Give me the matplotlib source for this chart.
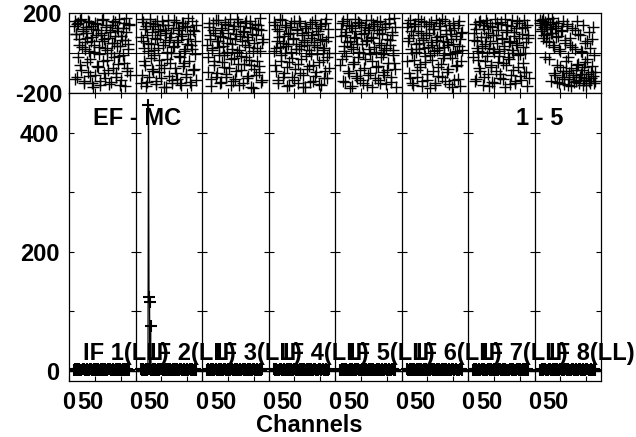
import numpy as np
import matplotlib
matplotlib.use("Agg")
import matplotlib.pyplot as plt
import matplotlib.transforms as mtrans

plt.rcParams['font.family'] = ['Liberation Sans', 'DejaVu Sans']
plt.rcParams['font.weight'] = 'bold'

# ---------------- data ----------------
N_IF = 8
N_CHAN = 128            # channels per IF
CH_FIRST = 10           # first plotted channel
CH_STEP = 2             # plotted channel spacing
if_labels = ["IF 1(LL)", "IF 2(LL)", "IF 3(LL)", "IF 4(LL)",
             "IF 5(LL)", "IF 6(LL)", "IF 7(LL)", "IF 8(LL)"]
x_tick_channels = [0, 50, 100]
x_tick_labels = ["0", "50", ""]
amp_ticks = [0, 100, 200, 300, 400]
amp_tick_labels = ["0", "", "200", "", "400"]
phase_ticks = [-200, 200]
phase_tick_labels = ["-200", "200"]
baseline_label = "EF - MC"
source_label = "1 - 5"
xlabel = "Channels"

# phases (deg) on even channels 10, 12, ... of each IF
phase_if1 = [135, 160, 95, -120, 150, 40, -60, 170, 110, -140, 20, 130, 75, -95, 155, -30, 60, -150, 120, 5,
             -110, 90, 145, -70, 30, -160, 100, 165, -40, 70, -125, 140, 15, -85, 115, -145, 50, 160, -20, 85,
             -100, 125, -55, 170, 35, -135, 65, -10, 150, -165, 105, -75, 45, 140]
phase_if2 = [-150, 170, 60, -40, 120, -165, 90, 10, -120, 150, 45, -80, 135, -10, 75, -140, 160, 25, -95, 110,
             -60, 140, -170, 55, 100, -30, 165, -115, 80, 0, -150, 125, 35, -75, 155, -130, 65, 115, -20, -160,
             95, 150, -50, 20, -105, 130, 70, -145, 40, 160, -85, 110, -5, -135]
phase_if3 = [40, -20, 150, 90, -130, 15, 115, -60, 165, -100, 60, 30, -150, 125, -45, 80, -10, 145, -120, 50,
             100, -75, 170, -30, 20, -140, 135, 70, -90, 5, 155, -160, 85, -15, 110, -55, 40, 160, -125, 65,
             -35, 130, -170, 95, 10, -80, 145, -110, 25, 120, -65, 175, -145, 55]
phase_if4 = [10, 140, -90, 60, -150, 110, 30, -40, 165, -120, 85, 0, 130, -70, 45, -160, 100, 150, -25, 70,
             -135, 20, 120, -55, 160, -100, 35, 90, -170, 55, 135, -15, -80, 105, 15, -145, 75, 155, -60, 40,
             -115, 125, -5, 95, -155, 65, 145, -35, 25, -90, 170, -125, 80, 0]
phase_if5 = [-60, 120, 150, -140, 35, 90, -15, 170, -100, 60, 135, -165, 20, -45, 110, 75, -125, 155, 5, -85,
             140, 45, -150, 100, -30, 165, 65, -110, 125, -5, 80, -170, 145, 30, -70, 115, -135, 50, 160, -20,
             95, -95, 15, 130, -155, 70, -50, 150, 40, -120, 105, -10, 175, -80]
phase_if6 = [130, 60, -100, 165, 20, -150, 90, -35, 145, 5, -120, 110, 50, -70, 160, -165, 75, 25, -45, 135,
             -135, 100, -10, 155, 40, -90, 120, -160, 65, 15, -115, 150, 85, -55, 170, -25, 30, -140, 115, 55,
             -80, 140, -5, 95, -170, 45, 125, -65, 10, -130, 160, 70, -40, 105]
phase_if7 = [-20, 100, 145, -130, 60, 10, -75, 160, 35, -160, 120, -40, 80, 150, -105, 25, 135, -60, -145, 90,
             5, 170, -90, 50, 115, -15, -125, 155, 70, -50, 20, -170, 105, 140, -30, 60, -110, 165, 0, 85,
             -150, 125, 40, -70, 150, -5, -135, 95, 30, -95, 130, 55, -165, 75]
phase_if8 = [150, 110, 160, 75, 130, -20, 140, 95, 170, 55, 120, -140, 100, 155, 30, -110, 135, -60, 85, -150,
             10, 115, -90, -130, 65, -40, 145, -160, -100, 40, -75, 125, -120, -145, 20, -85, 160, -55, -135, 90,
             -105, 5, -160, -70, 50, -125, -30, 105, -150, -95, 70, -115, -10, -140]

# phases (deg) on odd channels 11, 13, ... of each IF
phase_if1_odd = [-130, 95, 145, -20, 70, 165, -85, 30, 120, -150, 55, 100, -45, 160, 10, -115, 135, 80, -170, 40,
                 150, -65, 115, -5, -140, 90, 60, 170, -100, 25, 130, -35, 75, -155, 105, 0, 140, -75, 50, 155,
                 -120, 35, 110, -15, -160, 85, 125, -50, 65, 175, -90, 20, 145, -110]
phase_if2_odd = [80, -110, 155, 25, -60, 135, -145, 50, 170, -25, 105, -90, 15, 145, -155, 70, 120, -35, 90, -125,
                 160, 40, -75, 115, -170, 5, 140, 65, -50, 100, -135, 30, 165, -100, 55, 125, -15, -150, 85, 150,
                 -65, 10, 135, -120, 45, 175, -40, 95, -160, 20, 115, -80, 60, 140]
phase_if3_odd = [-95, 130, 70, -165, 25, 150, -40, 100, -120, 60, 165, -10, 85, -145, 115, 35, -70, 155, -105, 5,
                 140, 75, -160, 45, 120, -25, -130, 95, 170, -55, 15, 135, -85, 60, -150, 105, 150, -20, 80, -115,
                 30, 160, -60, 125, -175, 50, 90, -40, 140, -95, 10, 115, -135, 70]
phase_if4_odd = [155, -60, 25, 120, -135, 80, 170, -10, 50, -100, 140, 35, -165, 95, -45, 130, 5, -120, 75, 160,
                 -80, 45, 115, -150, 20, 150, -30, 100, -110, 65, -170, 125, 40, -65, 145, -5, 90, -140, 55, 165,
                 -95, 30, 110, -45, 135, -160, 70, 15, -125, 150, 60, -20, 120, -75]
phase_if5_odd = [85, -30, 160, 10, -145, 105, 55, -90, 140, -175, 30, 125, -55, 80, 170, -115, 45, -20, 150, -135,
                 95, 0, -75, 130, 60, -160, 115, 20, -100, 165, -40, 75, 135, -125, 5, 155, -65, 100, -150, 40,
                 120, -5, -110, 145, 25, -85, 170, 65, -145, 90, 15, -50, 130, -170]
phase_if6_odd = [-40, 150, 75, -125, 110, 0, -160, 135, 45, -85, 170, 20, -55, 100, -140, 65, 155, -15, 90, -105,
                 30, 145, -175, 55, -35, 120, 10, -150, 165, 80, -70, 25, 135, -120, 60, -10, 160, 95, -95, 40,
                 -155, 115, 70, -25, 150, -135, 5, 85, -60, 140, 35, -165, 100, 15]
phase_if7_odd = [65, -140, 120, 25, -35, 155, -90, 80, 5, 140, -120, 45, 165, -15, 100, -165, 60, -70, 130, 20,
                 -150, 90, 150, -45, 10, -105, 145, 75, -130, 35, 170, -60, 115, -20, 55, -155, 135, 15, -85, 105,
                 -140, 50, 160, -10, 75, -115, 125, -50, 165, 0, -95, 140, 90, -125]
phase_if8_odd = [165, 140, 120, 170, 90, 155, 60, 130, -30, 145, 100, 175, 40, -100, 125, 80, -145, 150, 20, -70,
                 110, -120, 160, -155, 50, -90, 135, -20, -130, 75, -165, 30, -110, 115, -140, -60, 95, -150, -120, 10,
                 -85, 140, -135, -45, -160, 60, -105, -140, 25, -125, -65, 130, -150, -95]

amp_if1 = [2,3,1,4,2,3,2,1,3,4,2,2,3,1,2,4,3,2,1,3,2,4,2,3,1,2,3,2,4,1,3,2,2,3,4,1,2,3,2,1,3,2,4,2,3,1,2,3,2,4,1,3,2,2]
amp_if2 = [3,2,4,1,2,3,2,4,125,3,1,2,3,2,4,2,1,3,2,3,4,1,2,2,3,1,4,2,3,2,1,3,2,4,2,3,1,2,3,4,2,1,3,2,2,4,1,3,2,3,2,1,4,2]
amp_if3 = [1,3,2,2,4,1,3,2,3,1,2,4,2,3,1,2,3,4,2,1,3,2,2,4,3,1,2,3,1,4,2,2,3,1,3,2,4,2,1,3,2,3,1,2,4,3,2,1,3,2,2,4,1,3]
amp_if4 = [4,2,3,1,2,2,4,3,1,2,3,2,1,4,2,3,2,3,1,2,4,2,3,1,2,3,2,4,1,3,2,1,3,2,4,2,3,2,1,3,4,2,1,2,3,3,1,4,2,2,3,1,2,3]
amp_if5 = [2,2,3,1,4,2,3,2,1,3,2,4,2,1,3,2,3,4,1,2,2,3,1,4,2,3,2,1,3,2,4,2,3,1,2,3,2,4,1,2,3,2,1,3,4,2,2,3,1,2,4,3,2,1]
amp_if6 = [3,1,2,4,2,3,1,3,2,2,4,1,3,2,3,2,1,4,2,3,2,2,1,3,4,2,3,1,2,3,2,4,2,1,3,2,3,1,4,2,2,3,2,1,3,4,2,3,1,2,2,3,4,1]
amp_if7 = [2,4,1,3,2,2,3,1,4,2,3,2,2,1,3,4,2,3,2,1,3,2,4,2,1,3,3,2,1,4,2,3,2,2,1,3,4,2,3,1,2,2,3,4,1,3,2,2,3,1,4,2,3,2]
amp_if8 = [1,2,3,2,4,3,1,2,2,3,4,2,1,3,2,3,2,4,1,2,3,2,2,1,4,3,2,3,1,2,2,4,3,1,2,3,2,1,3,4,2,2,3,1,2,3,4,2,1,3,2,2,3,1]

# extra channels of the IF 2 spike
spike_if = 1
spike_channels = [25, 27, 29]
spike_amps = [447, 116, 75]

phases = [phase_if1, phase_if2, phase_if3, phase_if4, phase_if5, phase_if6, phase_if7, phase_if8]
phases_odd = [phase_if1_odd, phase_if2_odd, phase_if3_odd, phase_if4_odd,
              phase_if5_odd, phase_if6_odd, phase_if7_odd, phase_if8_odd]
amps = [amp_if1, amp_if2, amp_if3, amp_if4, amp_if5, amp_if6, amp_if7, amp_if8]

# ---------------- figure ----------------
W, H = 636, 437
fig = plt.figure(figsize=(W / 100, H / 100), dpi=100)
L, R = 69, 601
ax_ph = fig.add_axes([L / W, 1 - 93 / H, (R - L) / W, 80 / H])
ax_am = fig.add_axes([L / W, 1 - 381 / H, (R - L) / W, 288 / H])

FS = 17
xmax = N_IF * N_CHAN
ph_mk = dict(linestyle='none', marker='+', ms=8.5, mew=1.0, color='black')

for i in range(N_IF):
    off = i * N_CHAN
    ch = CH_FIRST + CH_STEP * np.arange(len(phases[i]))
    ax_ph.plot(off + ch, phases[i], **ph_mk)
    ch_odd = CH_FIRST + 1 + CH_STEP * np.arange(len(phases_odd[i]))
    ax_ph.plot(off + ch_odd, phases_odd[i], **ph_mk)

    cha = list(CH_FIRST + CH_STEP * np.arange(len(amps[i])))
    va = list(amps[i])
    if i == spike_if:
        cha += spike_channels
        va += spike_amps
    order = np.argsort(cha)
    cha = np.array(cha)[order]
    va = np.array(va)[order]
    ax_am.plot(off + cha, va, linestyle='-', lw=0.9, marker='+', ms=9, mew=1.5, color='black')

for ax in (ax_ph, ax_am):
    ax.set_xlim(0, xmax)
    for sp in ax.spines.values():
        sp.set_linewidth(0.9)
    for i in range(1, N_IF):
        ax.axvline(i * N_CHAN, color='black', lw=0.9)

# phase panel
ax_ph.set_ylim(-200, 200)
ax_ph.axhline(0, color='black', lw=0.8)
ax_ph.set_yticks(phase_ticks)
ax_ph.set_yticklabels(phase_tick_labels, fontsize=FS, fontweight='bold')
ax_ph.tick_params(axis='y', length=0, pad=5)
xt = [i * N_CHAN + c for i in range(N_IF) for c in x_tick_channels]
ax_ph.set_xticks(xt)
ax_ph.tick_params(axis='x', direction='in', length=3.6, width=0.8, labelbottom=False)

# amplitude panel
ax_am.set_ylim(-16.8, 467)
ax_am.axhline(0, color='black', lw=1.0)
ax_am.set_yticks(amp_ticks)
ax_am.set_yticklabels(amp_tick_labels, fontsize=FS, fontweight='bold')
ax_am.tick_params(axis='y', direction='in', left=True, right=True, length=3.6, width=0.8, pad=7)
ax_am.set_xticks(xt)
ax_am.set_xticklabels([lab for i in range(N_IF) for lab in x_tick_labels], fontsize=FS, fontweight='bold')
ax_am.tick_params(axis='x', direction='in', top=True, bottom=True, length=3.6, width=0.8, pad=7)
shift = mtrans.ScaledTranslation(-5 / 100, 0, fig.dpi_scale_trans)
for lab in ax_am.get_xticklabels():
    if lab.get_text() == "50":
        lab.set_transform(lab.get_transform() + shift)

# y ticks on interior IF dividers
for i in range(1, N_IF):
    ax_am.plot([i * N_CHAN] * len(amp_ticks), amp_ticks, linestyle='none',
               marker='_', ms=7.4, mew=0.8, color='black')

# IF labels
for i in range(N_IF):
    ax_am.text(i * N_CHAN + 27, 18.5, if_labels[i], fontsize=FS, fontweight='bold',
               ha='left', va='baseline', clip_on=False)

ax_am.text(46, 413, baseline_label, fontsize=FS, fontweight='bold', ha='left', va='baseline')
ax_am.text(860, 413, source_label, fontsize=FS, fontweight='bold', ha='left', va='baseline')

fig.text(309 / W, 1 - 426 / H, xlabel, fontsize=FS, fontweight='bold', ha='center', va='center')

fig.savefig("out.png", dpi=100)
